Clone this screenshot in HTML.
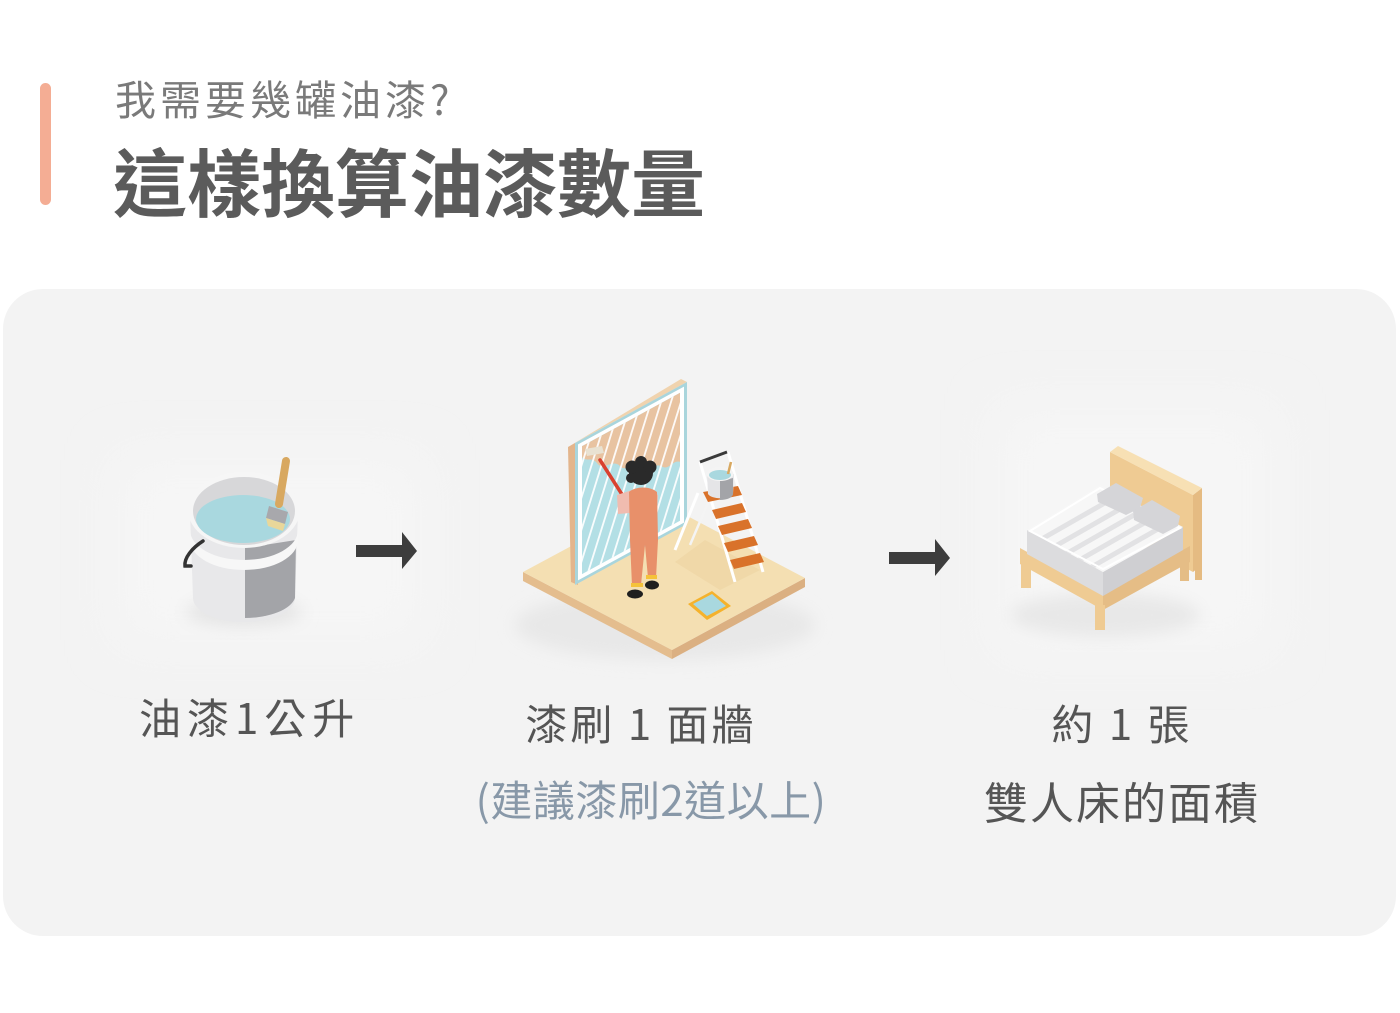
<!DOCTYPE html>
<html><head><meta charset="utf-8">
<style>
html,body{margin:0;padding:0;background:#fff;}
body{width:1400px;height:1013px;position:relative;overflow:hidden;font-family:"Liberation Sans","Noto Sans CJK TC",sans-serif;}
.t{position:absolute;white-space:nowrap;font-family:"Noto Sans CJK TC","Liberation Sans",sans-serif;}
svg{position:absolute;left:0;top:0;}
</style></head><body>
<svg width="1400" height="1013" viewBox="0 0 1400 1013">
<defs>
<filter id="blur8" x="-50%" y="-50%" width="200%" height="200%"><feGaussianBlur stdDeviation="8"/></filter>
<filter id="blur20" x="-50%" y="-50%" width="200%" height="200%"><feGaussianBlur stdDeviation="25"/></filter>
<clipPath id="wallclip"><rect x="7" y="7" width="98" height="128"/></clipPath>
<clipPath id="mclip"><polygon points="1027,530 1100,485 1183,527 1103,572"/></clipPath>
</defs>
<rect x="40" y="83" width="11" height="122" rx="5.5" fill="#f4ad94"/>
<rect x="3" y="289" width="1393" height="647" rx="40" fill="#f3f3f3"/>
<!-- soft glows -->
<rect x="120" y="460" width="300" height="180" fill="#f6f6f6" filter="url(#blur20)"/>
<rect x="1000" y="410" width="270" height="240" fill="#f6f6f6" filter="url(#blur20)"/>

<!-- ===== Bucket ===== -->
<ellipse cx="244" cy="612" rx="58" ry="14" fill="#e4e4e4" filter="url(#blur8)"/>
<path d="M190,512 L193,598 A51,24 0 0 0 295,598 L298,512 Z" fill="#e8e8ea"/>
<path d="M245,548 L296,540 L295,598 A51,24 0 0 1 245,618 Z" fill="#a3a4a8"/>
<path d="M190,530 A54,30 0 0 0 298,530 L298,540 A54,30 0 0 1 190,540 Z" fill="#f7f7f7"/>
<ellipse cx="244" cy="510" rx="56" ry="38" fill="#f6f6f6"/>
<ellipse cx="244" cy="511" rx="51" ry="34" fill="#d7d7d9"/>
<ellipse cx="243" cy="519" rx="47" ry="24" fill="#a9d8df"/>
<path d="M203,541 C192,548 184,558 185,566 L191,566" fill="none" stroke="#333" stroke-width="3.5" stroke-linecap="round"/>
<line x1="286" y1="461" x2="279" y2="504" stroke="#d8a860" stroke-width="8" stroke-linecap="round"/>
<polygon points="269,506 288,512 285,524 266,518" fill="#a8a8ac"/>
<polygon points="266,518 285,524 283,531 268,526" fill="#e9d79a"/>

<!-- arrow 1 -->
<polygon points="356,545 402,545 402,532 417,551 402,569 402,557 356,557" fill="#3d3d3d"/>
<!-- arrow 2 -->
<polygon points="889,552 935,552 935,539 950,558 935,576 935,564 889,564" fill="#3d3d3d"/>

<!-- ===== Middle illustration ===== -->
<ellipse cx="665" cy="625" rx="150" ry="35" fill="#e8e8e8" filter="url(#blur8)"/>
<!-- floor -->
<polygon points="523,572 672,650 672,659 523,581" fill="#e4bd8e"/>
<polygon points="672,650 805,578 805,587 672,659" fill="#dbb082"/>
<polygon points="523,572 657,500 805,578 672,650" fill="#f4dfb2"/>
<!-- ladder shadow -->
<polygon points="705,540 760,570 720,590 675,562" fill="#ecd3a2" opacity="0.6"/>
<!-- wall -->
<polygon points="568,447 681,379 687,382 575,443" fill="#f0d3ae"/>
<polygon points="568,447 575,443 578,585 571,582" fill="#e3b58c"/>
<g transform="matrix(1,-0.545,0,1,575,443)">
  <rect x="0" y="0" width="112" height="142" fill="#a9d5dc"/>
  <rect x="3" y="3" width="106" height="136" fill="#ffffff"/>
  <rect x="7" y="7" width="98" height="128" fill="#b3dfe5"/>
  <g clip-path="url(#wallclip)">
    <path d="M7,7 L105,7 L105,76 C98,70 94,78 88,72 C80,62 74,70 66,58 C58,50 50,58 44,46 C36,36 28,44 22,32 C16,22 12,26 7,18 Z" fill="#e8c3a1"/>
    <g stroke="#ffffff" stroke-width="2.2" opacity="0.9">
      <line x1="-40" y1="150" x2="20" y2="-10"/>
      <line x1="-28" y1="150" x2="32" y2="-10"/>
      <line x1="-16" y1="150" x2="44" y2="-10"/>
      <line x1="-4" y1="150" x2="56" y2="-10"/>
      <line x1="8" y1="150" x2="68" y2="-10"/>
      <line x1="20" y1="150" x2="80" y2="-10"/>
      <line x1="32" y1="150" x2="92" y2="-10"/>
      <line x1="44" y1="150" x2="104" y2="-10"/>
      <line x1="56" y1="150" x2="116" y2="-10"/>
      <line x1="68" y1="150" x2="128" y2="-10"/>
      <line x1="80" y1="150" x2="140" y2="-10"/>
      <line x1="92" y1="150" x2="152" y2="-10"/>
      <line x1="104" y1="150" x2="164" y2="-10"/>
    </g>
  </g>
</g>
<!-- ladder -->
<line x1="698" y1="493" x2="675" y2="550" stroke="#ffffff" stroke-width="3"/>
<line x1="710" y1="498" x2="690" y2="545" stroke="#f4f4f4" stroke-width="2.5"/>
<line x1="700" y1="462" x2="735" y2="582" stroke="#ffffff" stroke-width="3"/>
<line x1="728" y1="452" x2="763" y2="572" stroke="#ffffff" stroke-width="3"/>
<line x1="700" y1="462" x2="727" y2="452" stroke="#3a3a3a" stroke-width="3"/>
<polygon points="703,492 738,486 742,495 708,502" fill="#d9722a"/>
<polygon points="712,510 742,503 746,512 716,519" fill="#d9722a"/>
<polygon points="718,526 748,519 752,528 722,535" fill="#d9722a"/>
<polygon points="724,543 754,536 758,545 728,552" fill="#d9722a"/>
<polygon points="730,560 760,553 764,562 734,569" fill="#d9722a"/>
<!-- small bucket on ladder -->
<path d="M707,474 L708,494 A13,6 0 0 0 733,494 L734,474 Z" fill="#e5e5e7"/>
<path d="M720,481 L733,478 L733,494 A13,6 0 0 1 720,500 Z" fill="#a3a4a8"/>
<ellipse cx="720" cy="474" rx="13.5" ry="7" fill="#f4f4f4"/>
<ellipse cx="720" cy="475" rx="11" ry="5" fill="#a9d8df"/>
<line x1="731" y1="462" x2="728" y2="474" stroke="#d8a860" stroke-width="2.5"/>
<!-- person -->
<line x1="600" y1="460" x2="623" y2="496" stroke="#d9412f" stroke-width="3.5" stroke-linecap="round"/>
<polygon points="585,449 602,446 604,453 587,456" fill="#e9e2d2"/>
<path d="M617,495 L632,490 L630,513 L618,514 Z" fill="#f0bcb0"/>
<path d="M648,490 L658,495 L657,512 L650,513 Z" fill="#f0bcb0"/>
<path d="M629,492 C636,486 650,486 657,492 L658,540 L656,578 L648,578 L645,545 L641,585 L632,586 L630,540 Z" fill="#e8906a"/>
<rect x="631" y="583" width="12" height="4" fill="#f5c23a"/>
<rect x="646" y="575" width="11" height="4" fill="#f5c23a"/>
<ellipse cx="635" cy="594" rx="8" ry="4.5" fill="#1f1f1f"/>
<ellipse cx="652" cy="585" rx="7" ry="4.5" fill="#1f1f1f"/>
<circle cx="641" cy="473" r="12" fill="#2a2a2a"/>
<circle cx="632" cy="467" r="6.5" fill="#2a2a2a"/>
<circle cx="650" cy="467" r="6.5" fill="#2a2a2a"/>
<circle cx="641" cy="462" r="6" fill="#2a2a2a"/>
<circle cx="631" cy="478" r="5" fill="#2a2a2a"/>
<!-- tray -->
<polygon points="688,604 712,591 731,606 707,620" fill="#f5b22c"/>
<polygon points="693,604 712,594 726,606 707,616" fill="#a9d8df"/>

<!-- ===== Bed ===== -->
<ellipse cx="1105" cy="615" rx="95" ry="22" fill="#e8e8e8" filter="url(#blur8)"/>
<!-- headboard -->
<polygon points="1110,452 1193,495 1193,572 1110,528" fill="#efcb93"/>
<polygon points="1193,495 1202,488 1202,565 1193,572" fill="#e5bb82"/>
<polygon points="1110,452 1118,446 1202,488 1193,495" fill="#f7e0b4"/>
<!-- back right leg -->
<rect x="1195" y="560" width="7" height="20" fill="#e5bb82"/>
<!-- frame -->
<polygon points="1020,548 1103,594 1103,610 1020,564" fill="#efcb93"/>
<polygon points="1103,594 1190,546 1190,562 1103,610" fill="#e5bd86"/>
<rect x="1021" y="560" width="10" height="28" fill="#efcb93"/>
<rect x="1095" y="605" width="10" height="25" fill="#efcb93"/>
<rect x="1180" y="556" width="9" height="25" fill="#e5bd86"/>
<!-- mattress -->
<polygon points="1027,530 1103,572 1103,596 1027,554" fill="#dcdcde"/>
<polygon points="1103,572 1183,527 1183,550 1103,596" fill="#cfcfd2"/>
<polygon points="1027,530 1100,485 1183,527 1103,572" fill="#f7f7f7"/>
<g clip-path="url(#mclip)" stroke="#e2e2e4" stroke-width="5">
  <line x1="1040" y1="540" x2="1110" y2="500"/>
  <line x1="1052" y1="548" x2="1122" y2="508"/>
  <line x1="1064" y1="555" x2="1134" y2="515"/>
  <line x1="1076" y1="562" x2="1146" y2="522"/>
  <line x1="1088" y1="569" x2="1158" y2="529"/>
</g>
<polygon points="1030,531 1100,488 1180,528 1103,569" fill="none" stroke="#ffffff" stroke-width="2"/>
<!-- pillows -->
<polygon points="1097,494 1116,483 1143,498 1140,508 1126,515 1098,502" fill="#d5d5d8"/>
<polygon points="1133,511 1152,500 1180,516 1178,526 1163,534 1134,520" fill="#d5d5d8"/>
</svg>

<div class="t" style="left:115px;top:75px;font-size:41px;line-height:44px;color:#7a7a7a;letter-spacing:4px;">我需要幾罐油漆?</div>
<div class="t" style="left:113px;top:142px;font-size:74px;line-height:76px;color:#5b5b5b;font-weight:700;">這樣換算油漆數量</div>

<div class="t" style="left:139px;top:694px;font-size:42px;line-height:46px;color:#555;letter-spacing:6px;">油漆1公升</div>
<div class="t" style="left:441px;width:400px;text-align:center;top:700px;font-size:42px;line-height:46px;color:#555;letter-spacing:3px;">漆刷 1 面牆</div>
<div class="t" style="left:451px;width:400px;text-align:center;top:776px;font-size:42px;line-height:46px;color:#8898a8;letter-spacing:0.5px;">(建議漆刷2道以上)</div>
<div class="t" style="left:922px;width:400px;text-align:center;top:700px;font-size:42px;line-height:46px;color:#555;letter-spacing:3px;">約 1 張</div>
<div class="t" style="left:922px;width:400px;text-align:center;top:776px;font-size:44px;line-height:48px;color:#555;letter-spacing:2px;">雙人床的面積</div>
</body></html>
